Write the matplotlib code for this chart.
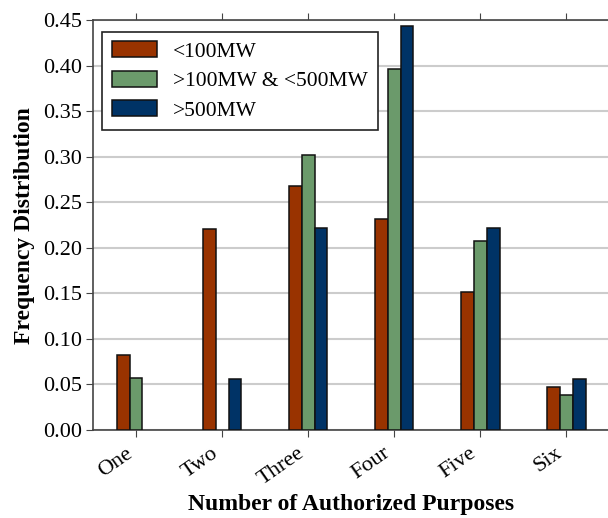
import numpy as np
import matplotlib
matplotlib.use('Agg')
import matplotlib.pyplot as plt

# Data
categories = ['One', 'Two', 'Three', 'Four', 'Five', 'Six']
series_names = ['<100MW', '>100MW & <500MW', '>500MW']
small = [0.082, 0.221, 0.268, 0.232, 0.151, 0.047]
medium = [0.057, 0.0, 0.302, 0.396, 0.208, 0.038]
large = [0.0, 0.056, 0.222, 0.444, 0.222, 0.056]
y_ticks = [0.00, 0.05, 0.10, 0.15, 0.20, 0.25, 0.30, 0.35, 0.40, 0.45]

colors = ['#993300', '#6b9a6b', '#003366']

plt.rcParams['font.family'] = ['Liberation Serif', 'DejaVu Serif']

fig = plt.figure(figsize=(6.08, 5.18), dpi=100)
ax = fig.add_axes([0.153, 0.170, 0.849, 0.791])

x = np.arange(len(categories))
width = 0.15

# Drawing the grouped bars (empty categories are left out so no edge line shows)
for i, (vals, name, col) in enumerate(zip([small, medium, large], series_names, colors)):
    vals = np.array(vals)
    vals = np.where(vals > 0, vals, np.nan)
    ax.bar(x + (i - 1) * width, vals, width, color=col, edgecolor='#111111',
           linewidth=1.1, label=name, zorder=3)

# Axes styling
ax.set_xlim(-0.5, 5.5)
ax.set_ylim(0, 0.45)
ax.set_yticks(y_ticks)
ax.set_yticklabels([f'{v:.2f}' for v in y_ticks], fontsize=16)
ax.set_xticks(x)
ax.set_xticklabels(categories, rotation=35, ha='right', fontsize=16)
ax.tick_params(direction='out', length=5, top=True, right=True, color='#444444', pad=3)
ax.tick_params(axis='x', pad=5)
ax.yaxis.grid(True, color='#cccccc', linewidth=1.5, zorder=0)
ax.set_axisbelow(True)
for sp in ax.spines.values():
    sp.set_color('#444444')
    sp.set_linewidth(1.2)

ax.set_xlabel('Number of Authorized Purposes', fontsize=17, fontweight='bold')
ax.xaxis.set_label_coords(0.5, -0.157)
ax.set_ylabel('Frequency Distribution', fontsize=17, fontweight='bold', labelpad=6)

# Legend
leg = ax.legend(loc='upper left', bbox_to_anchor=(0.018, 0.972), fontsize=15.5,
                fancybox=False, framealpha=1, edgecolor='#222222',
                handlelength=2.1, handleheight=0.75, handletextpad=0.75,
                borderpad=0.45, labelspacing=0.42, borderaxespad=0)
leg.get_frame().set_linewidth(1.2)

fig.savefig('out.png', dpi=100)
